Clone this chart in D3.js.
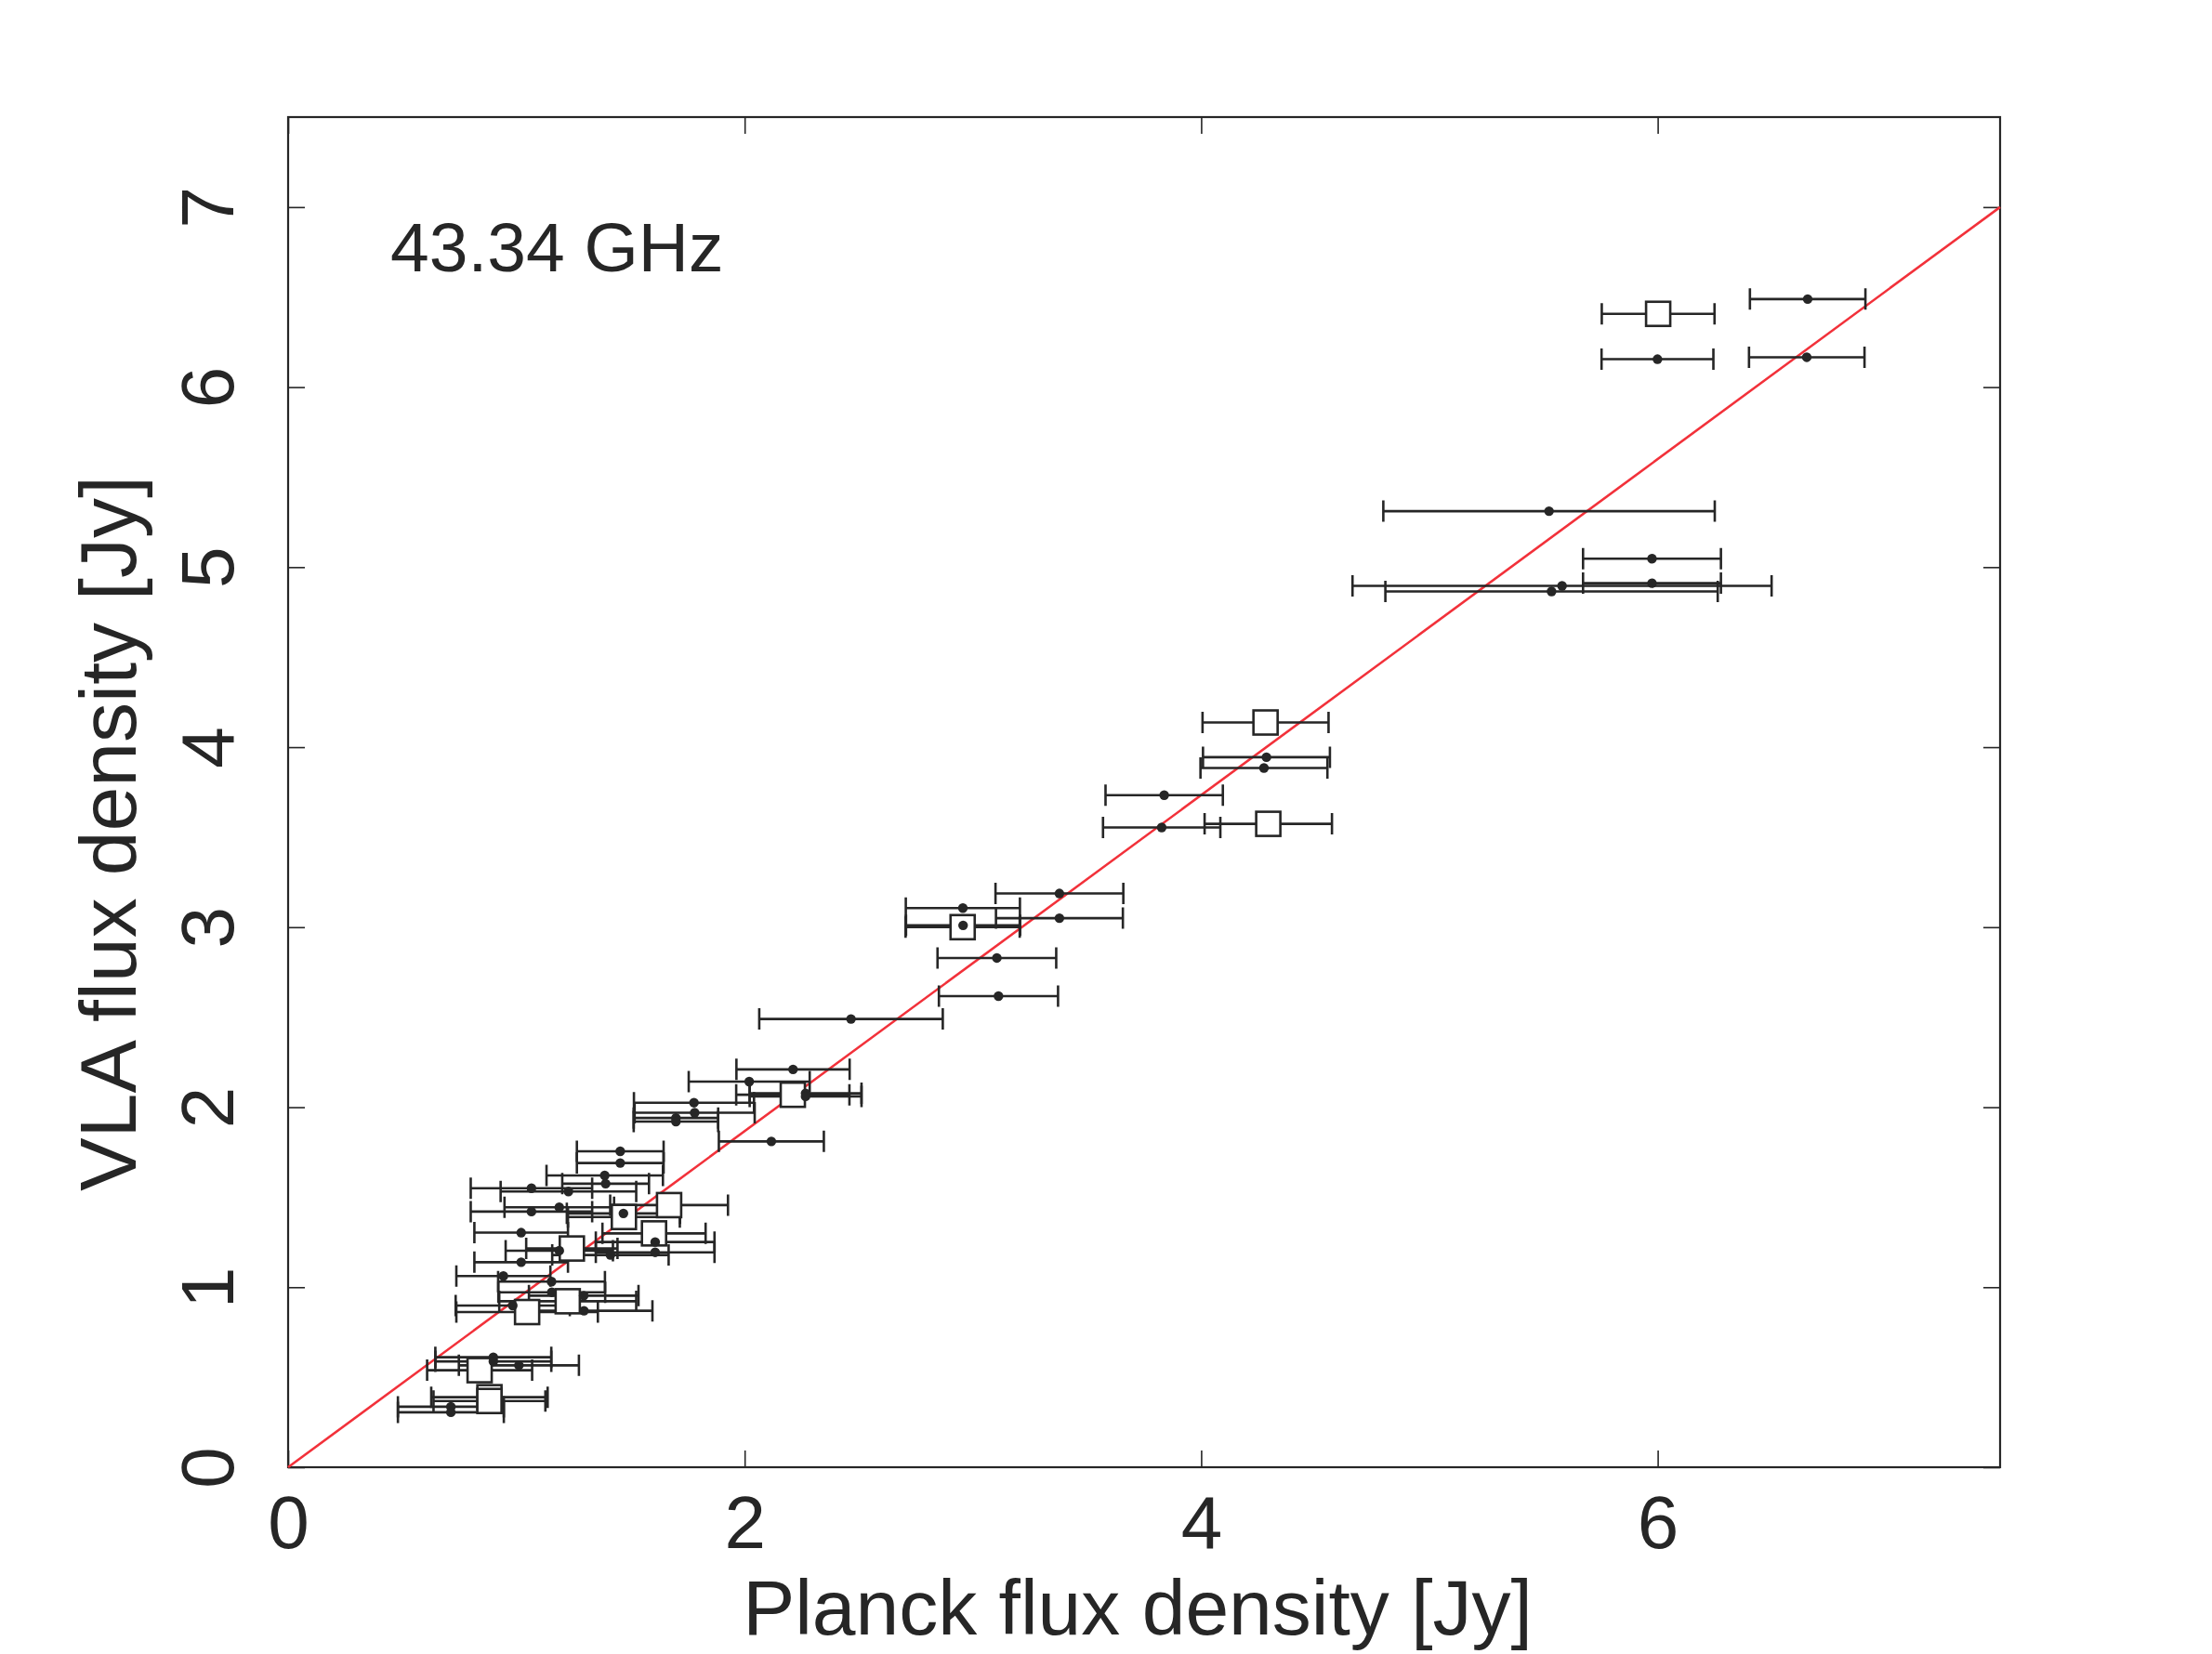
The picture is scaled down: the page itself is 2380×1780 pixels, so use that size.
<!DOCTYPE html>
<html>
<head>
<meta charset="utf-8">
<script src="https://cdn.jsdelivr.net/npm/d3@7"></script>
<style>
  body { margin: 0; background: #fff; }
  svg text { font-family: "Liberation Sans", Arial, Helvetica, sans-serif; fill: #262626; }
</style>
</head>
<body>
<div id="chart"></div>
<script>
// Planck vs VLA flux density, 43.34 GHz
// filled dots
var dotPlanck = [6.657, 6.653, 5.999, 5.524, 5.975, 5.975, 5.581, 5.535, 4.286, 4.275,
    3.838, 3.827, 3.379, 3.379, 2.956, 2.957, 3.105, 3.112, 2.466, 2.212,
    2.020, 2.267, 2.267, 1.778, 1.781, 1.699, 1.699, 2.117, 1.455, 1.455,
    1.387, 1.391, 1.066, 1.228, 1.066, 1.188, 1.469, 1.021, 1.608, 1.608,
    1.188, 1.412, 1.021, 0.943, 1.154, 1.155, 1.295, 0.984, 1.296, 0.899,
    0.899, 1.011, 0.713, 0.713];
var dotVLA = [6.489, 6.166, 6.155, 5.311, 5.047, 4.911, 4.896, 4.865, 3.944, 3.884,
    3.733, 3.554, 3.187, 3.050, 3.106, 3.010, 2.829, 2.617, 2.490, 2.210,
    2.142, 2.077, 2.060, 2.025, 1.969, 1.940, 1.920, 1.810, 1.755, 1.690,
    1.621, 1.575, 1.550, 1.532, 1.420, 1.444, 1.410, 1.303, 1.251, 1.194,
    1.203, 1.179, 1.139, 1.062, 1.031, 0.972, 0.953, 0.898, 0.869, 0.611,
    0.588, 0.566, 0.336, 0.305];
var dotErr = [0.253, 0.253, 0.245, 0.726, 0.302, 0.302, 0.918, 0.728, 0.278, 0.278,
    0.257, 0.257, 0.280, 0.278, 0.250, 0.250, 0.260, 0.261, 0.402, 0.248,
    0.265, 0.245, 0.245, 0.263, 0.263, 0.185, 0.185, 0.230, 0.190, 0.190,
    0.255, 0.190, 0.266, 0.297, 0.266, 0.240, 0.248, 0.205, 0.260, 0.260,
    0.235, 0.255, 0.205, 0.206, 0.234, 0.234, 0.240, 0.250, 0.300, 0.254,
    0.254, 0.263, 0.232, 0.232];

// open squares
var sqPlanck = [6.002, 4.282, 4.294, 2.955, 2.211, 1.669, 1.471, 1.603, 1.243, 1.225, 1.047, 0.839, 0.882, 0.882];
var sqVLA = [6.407, 4.137, 3.574, 3.000, 2.069, 1.456, 1.390, 1.299, 1.215, 0.922, 0.862, 0.539, 0.389, 0.368];
var sqErr = [0.247, 0.276, 0.279, 0.250, 0.248, 0.258, 0.245, 0.226, 0.200, 0.300, 0.310, 0.230, 0.255, 0.245];

var xTicks = [0, 2, 4, 6];
var yTicks = [0, 1, 2, 3, 4, 5, 6, 7];
var refLine = [[0, 0], [7.5, 7.0]];
var freqLabel = "43.34 GHz";

var W = 2380, H = 1780;
var margin = { top: 126, right: 228, bottom: 201, left: 310 };
var width = W - margin.left - margin.right,
    height = H - margin.top - margin.bottom;
var ink = "#262626";

var svg = d3.select("#chart").append("svg")
    .attr("width", W)
    .attr("height", H);

var g = svg.append("g")
    .attr("transform", "translate(" + margin.left + "," + margin.top + ")");

var x = d3.scaleLinear().domain([0, 7.5]).range([0, width]);
var y = d3.scaleLinear().domain([0, 7.5]).range([height, 0]);

// frame
g.append("rect")
    .attr("width", width).attr("height", height)
    .attr("fill", "none").attr("stroke", ink).attr("stroke-width", 2.2);

function styleAxis(sel) {
    sel.select(".domain").remove();
    sel.selectAll(".tick line").attr("stroke", ink).attr("stroke-width", 1.6);
    sel.selectAll(".tick text").attr("fill", ink).style("font-size", "80px");
}

g.append("g")
    .attr("transform", "translate(0," + height + ")")
    .call(d3.axisBottom(x).tickValues(xTicks).tickSizeInner(-18).tickSizeOuter(0).tickPadding(30).tickFormat(d3.format("d")))
    .call(styleAxis)
    .attr("font-family", null);

g.append("g")
    .call(d3.axisTop(x).tickValues(xTicks).tickSizeInner(-18).tickSizeOuter(0).tickFormat(""))
    .call(styleAxis);

var yAxis = g.append("g")
    .call(d3.axisLeft(y).tickValues(yTicks).tickSizeInner(-18).tickSizeOuter(0).tickFormat(d3.format("d")))
    .call(styleAxis)
    .attr("font-family", null);
yAxis.selectAll(".tick text")
    .attr("x", 0).attr("y", 0).attr("dy", "0.36em")
    .attr("text-anchor", "middle")
    .attr("transform", "translate(-88,0) rotate(-90)");

g.append("g")
    .attr("transform", "translate(" + width + ",0)")
    .call(d3.axisRight(y).tickValues(yTicks).tickSizeInner(-18).tickSizeOuter(0).tickFormat(""))
    .call(styleAxis);

// axis titles
svg.append("text")
    .attr("x", 1224).attr("y", 1759)
    .attr("text-anchor", "middle")
    .style("font-size", "84px")
    .text("Planck flux density [Jy]");

svg.append("text")
    .attr("transform", "translate(146,897) rotate(-90)")
    .attr("text-anchor", "middle")
    .style("font-size", "86px")
    .text("VLA flux density [Jy]");

g.append("text")
    .attr("x", 110).attr("y", 166)
    .style("font-size", "75px")
    .text(freqLabel);

// reference line
g.append("path")
    .datum(refLine)
    .attr("d", d3.line().x(function (d) { return x(d[0]); }).y(function (d) { return y(d[1]); }))
    .attr("stroke", "#f2313a")
    .attr("stroke-width", 2.6)
    .attr("fill", "none");

var dots = dotPlanck.map(function (v, i) { return { x: v, y: dotVLA[i], e: dotErr[i] }; });
var squares = sqPlanck.map(function (v, i) { return { x: v, y: sqVLA[i], e: sqErr[i] }; });
var all = dots.concat(squares);
var cap = 11.5;

var bars = g.append("g").attr("class", "errorbars")
    .attr("stroke", ink).attr("stroke-width", 2.6).attr("fill", "none");

bars.selectAll("path")
    .data(all)
    .enter().append("path")
    .attr("d", function (d) {
        var x0 = x(d.x - d.e), x1 = x(d.x + d.e), yy = y(d.y);
        return "M" + x0 + "," + yy + "H" + x1 +
            "M" + x0 + "," + (yy - cap) + "V" + (yy + cap) +
            "M" + x1 + "," + (yy - cap) + "V" + (yy + cap);
    });

g.append("g").selectAll("rect")
    .data(squares)
    .enter().append("rect")
    .attr("x", function (d) { return x(d.x) - 13; })
    .attr("y", function (d) { return y(d.y) - 13; })
    .attr("width", 26).attr("height", 26)
    .attr("fill", "#fff")
    .attr("stroke", ink)
    .attr("stroke-width", 2.6);

g.append("g").selectAll("circle")
    .data(dots)
    .enter().append("circle")
    .attr("cx", function (d) { return x(d.x); })
    .attr("cy", function (d) { return y(d.y); })
    .attr("r", 5.2)
    .attr("fill", ink);
</script>
</body>
</html>
